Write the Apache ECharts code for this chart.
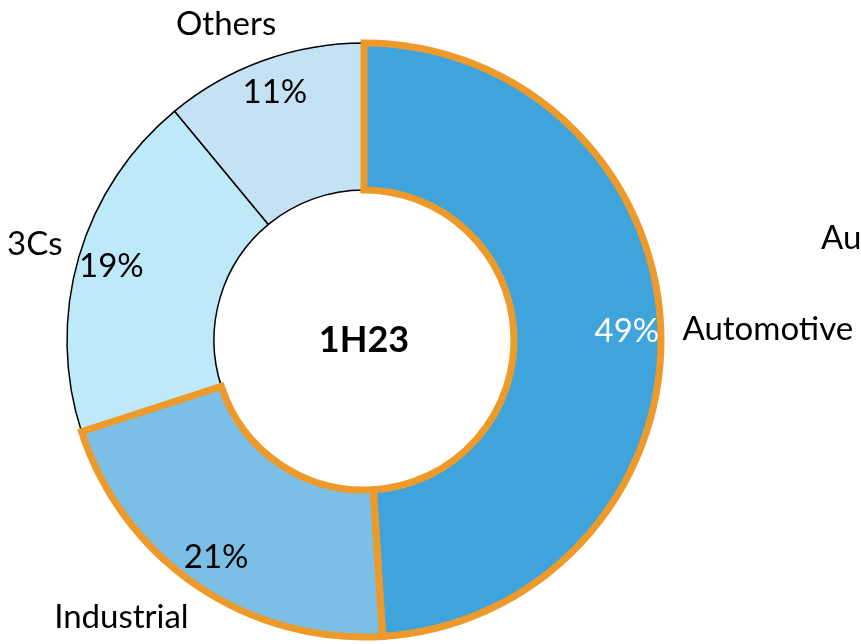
<!DOCTYPE html>
<html>
<head>
<meta charset="utf-8">
<script src="https://cdn.jsdelivr.net/npm/echarts@6/dist/echarts.min.js"></script>
<style>
html,body{margin:0;padding:0;background:#fff;}
#chart{width:861px;height:644px;}
</style>
</head>
<body>
<div id="chart"></div>
<script>
// ---- data ----
const categories = ['Automotive', 'Industrial', '3Cs', 'Others'];
const shares = [49, 21, 19, 11];
const centerTitle = '1H23';
const highlighted = ['Automotive', 'Industrial'];
const strayLabel = 'Au';

// ---- styles ----
const fillColors = ['#40A4DC', '#7BBFE6', '#BEE9F8', '#C5E2F4'];
const pctColors = ['#ffffff', '#000000', '#000000', '#000000'];
const orange = '#EE9A2B';
const FONT = 'Lato';
const nameOffsets = [[56, 0], [-47, -10], [5, 1], [-20, 12]];

const chart = echarts.init(document.getElementById('chart'));
const center = [364, 340];

const baseData = categories.map((c, i) => ({
  name: c, value: shares[i],
  itemStyle: { color: fillColors[i], borderColor: '#000', borderWidth: 1.5 }
}));
const borderData = categories.map((c, i) => ({
  name: c, value: shares[i],
  itemStyle: highlighted.includes(c)
    ? { color: 'rgba(0,0,0,0)', borderColor: orange, borderWidth: 7, borderJoin: 'miter' }
    : { color: 'rgba(0,0,0,0)', borderWidth: 0 }
}));
const pctData = categories.map((c, i) => ({
  name: c, value: shares[i],
  label: { color: pctColors[i] }
}));
const nameData = categories.map((c, i) => ({ name: c, value: shares[i] }));

chart.setOption({
  animation: false,
  backgroundColor: '#fff',
  graphic: [{
    type: 'text', left: 821, top: 222, silent: true,
    style: { text: strayLabel, font: '33px ' + FONT, fill: '#000' }
  }],
  series: [
    {
      type: 'pie', center: center, radius: [150, 297], startAngle: 90, clockwise: true,
      silent: true, label: { show: false }, labelLine: { show: false },
      data: baseData, z: 1
    },
    {
      type: 'pie', center: center, radius: [150, 297], startAngle: 90, clockwise: true,
      silent: true, label: { show: false }, labelLine: { show: false },
      data: borderData, z: 2
    },
    {
      type: 'pie', center: center, radius: [222, 298], startAngle: 90, clockwise: true,
      silent: true, labelLine: { show: false },
      itemStyle: { color: 'rgba(0,0,0,0)', borderWidth: 0 },
      label: { show: true, position: 'inside', formatter: '{c}%', fontFamily: FONT, fontSize: 33 },
      data: pctData, z: 3
    },
    {
      type: 'pie', center: center, radius: [310, 380], startAngle: 90, clockwise: true,
      silent: true, labelLine: { show: false },
      itemStyle: { color: 'rgba(0,0,0,0)', borderWidth: 0 },
      label: { show: true, position: 'inside', formatter: '{b}', color: '#000', fontFamily: FONT, fontSize: 33 },
      labelLayout: function (p) {
        const o = nameOffsets[p.dataIndex];
        return { dx: o[0], dy: o[1] };
      },
      data: nameData, z: 3
    },
    {
      type: 'pie', center: center, radius: [0, 1], silent: true,
      itemStyle: { color: 'rgba(0,0,0,0)' }, labelLine: { show: false },
      label: { show: true, position: 'center', formatter: centerTitle, color: '#000',
               fontFamily: FONT, fontWeight: 'bold', fontSize: 36 },
      data: [{ name: centerTitle, value: 1 }], z: 4
    }
  ]
});
</script>
</body>
</html>
